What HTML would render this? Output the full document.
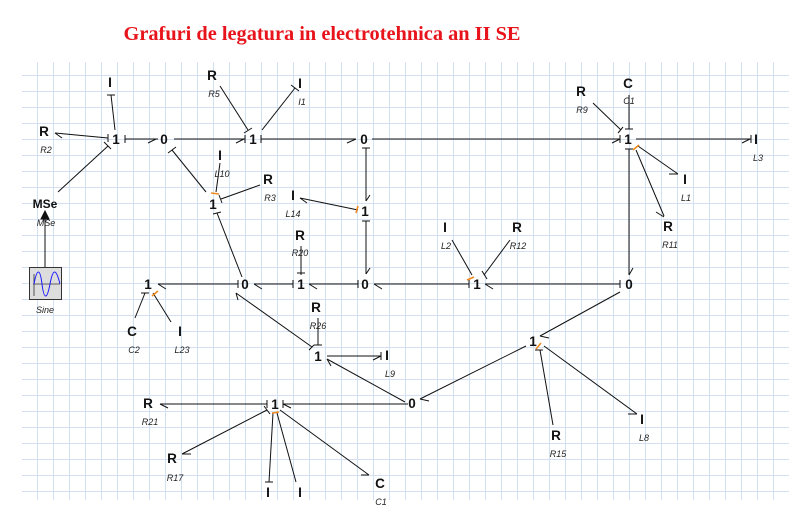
<!DOCTYPE html>
<html><head><meta charset="utf-8"><style>
html,body{margin:0;padding:0;background:#fff;width:789px;height:506px;overflow:hidden}
svg{display:block}
.n{font-family:"Liberation Sans",sans-serif;font-size:13.5px;font-weight:bold;fill:#111}
.l{font-family:"Liberation Sans",sans-serif;font-size:9px;font-style:italic;fill:#222}
</style></head><body>
<svg width="789" height="506" viewBox="0 0 789 506" xmlns="http://www.w3.org/2000/svg">
<defs>
<pattern id="g" x="5" y="11" width="16" height="16" patternUnits="userSpaceOnUse">
<path d="M0 0.5H16M0.5 0V16" stroke="#d2e1f2" stroke-width="1" fill="none"/>
</pattern>
</defs>
<rect x="22" y="62" width="767" height="438" fill="url(#g)"/>
<text x="322" y="40" text-anchor="middle" font-family="Liberation Serif,serif" font-weight="bold" font-size="20" fill="#e8141c" textLength="397" lengthAdjust="spacingAndGlyphs">Grafuri de legatura in electrotehnica an II SE</text>

<g stroke="#111" stroke-width="1" fill="none">
<line x1="125" y1="139" x2="158" y2="139"/><path d="M125 135V143"/><path d="M148 143L156 139"/>
<line x1="174" y1="139" x2="245" y2="139"/><path d="M245 135V143"/><path d="M236 143L244 139"/>
<line x1="261" y1="139" x2="356" y2="139"/><path d="M261 135V143"/><path d="M347 143L356 139"/>
<line x1="372" y1="139" x2="620" y2="139"/><path d="M620 135V143"/><path d="M612 143L620 139"/>
<line x1="636" y1="139" x2="751" y2="139"/><path d="M751 135V143"/><path d="M742 143L750 139"/>
<line x1="115" y1="130" x2="111" y2="95"/><path d="M107 95H115"/>
<line x1="108" y1="138" x2="55" y2="133"/><path d="M108 134V142"/><path d="M55 133L62 138"/>
<line x1="108" y1="146" x2="58" y2="192"/><path d="M104 142L111 149"/>
<line x1="45" y1="267" x2="45" y2="213"/><path d="M41 219L45 211L49 219Z" fill="#111"/>
<line x1="220" y1="86" x2="248" y2="130"/><path d="M244 133L252 128"/>
<line x1="262" y1="130" x2="295" y2="88"/><path d="M291 85L299 91"/>
<line x1="172" y1="150" x2="206" y2="192"/><path d="M168 153L176 147"/>
<line x1="216" y1="192" x2="220" y2="163"/>
<line x1="221" y1="199" x2="260" y2="185"/><path d="M219 195L222 203"/>
<line x1="217" y1="213" x2="242" y2="277"/><path d="M213 214L221 212"/>
<line x1="158" y1="284" x2="238" y2="284"/><path d="M238 280V288"/><path d="M158 284L166 289"/>
<line x1="254" y1="284" x2="293" y2="284"/><path d="M293 280V288"/><path d="M254 284L262 289"/>
<line x1="309" y1="284" x2="358" y2="284"/><path d="M358 280V288"/><path d="M309 284L317 289"/>
<line x1="374" y1="284" x2="469" y2="284"/><path d="M469 280V288"/><path d="M374 284L382 289"/>
<line x1="485" y1="284" x2="620" y2="284"/><path d="M620 280V288"/><path d="M485 284L493 289"/>
<line x1="301" y1="275" x2="301" y2="246"/><path d="M297 273H305"/>
<line x1="366" y1="148" x2="366" y2="201"/><path d="M362 148H370"/><path d="M366 201L370 195"/>
<line x1="366" y1="221" x2="366" y2="274"/><path d="M362 221H370"/><path d="M366 274L370 268"/>
<line x1="358" y1="210" x2="300" y2="198"/><path d="M300 198L307 203"/>
<line x1="472" y1="275" x2="452" y2="240"/>
<line x1="484" y1="275" x2="510" y2="240"/><path d="M482 271L487 279"/>
<line x1="629" y1="275" x2="629" y2="149"/><path d="M625 149H633"/><path d="M629 275L633 268"/>
<line x1="621" y1="130" x2="593" y2="103"/><path d="M618 133L623 127"/>
<line x1="629" y1="129" x2="629" y2="95"/><path d="M625 129H633"/>
<line x1="638" y1="146" x2="678" y2="174"/><path d="M669 174H678"/>
<line x1="636" y1="150" x2="664" y2="216"/><path d="M656 212L664 217"/>
<line x1="620" y1="292" x2="540" y2="336"/><path d="M540 336L549 338"/>
<line x1="540" y1="350" x2="553" y2="425"/><path d="M535 350H543"/>
<line x1="544" y1="346" x2="637" y2="414"/><path d="M628 414H637"/>
<line x1="526" y1="346" x2="420" y2="399"/><path d="M420 399L429 401"/>
<line x1="405" y1="402" x2="327" y2="359"/><path d="M327 359L331 366"/>
<line x1="236" y1="293" x2="312" y2="347"/><path d="M309 350L314 345"/><path d="M236 293L238 300"/>
<line x1="318" y1="345" x2="318" y2="318"/><path d="M314 345H322"/>
<line x1="327" y1="356" x2="381" y2="356"/><path d="M381 352V360"/><path d="M373 360L381 356"/>
<line x1="408" y1="404" x2="283" y2="404"/><path d="M283 400V408"/><path d="M283 404L291 408"/>
<line x1="267" y1="404" x2="160" y2="404"/><path d="M267 400V408"/><path d="M160 404L168 408"/>
<line x1="267" y1="410" x2="182" y2="454"/><path d="M264 406L270 414"/><path d="M182 454L191 454"/>
<line x1="273" y1="413" x2="269" y2="482"/><path d="M265 482H273"/>
<line x1="277" y1="413" x2="296" y2="482"/>
<line x1="280" y1="410" x2="369" y2="475"/><path d="M361 475H369"/>
<line x1="145" y1="293" x2="135" y2="318"/><path d="M141 293H149"/>
<line x1="153" y1="293" x2="171" y2="322"/>
</g>
<g stroke="#f08a1c" stroke-width="1.6">
<path d="M211 193L219 194"/><path d="M633 150L639 145"/><path d="M356 213L358 206"/>
<path d="M467 280L474 277"/><path d="M536 349L541 343"/><path d="M152 296L158 291"/>
<path d="M272 413L279 412"/>
</g>
<rect x="29.5" y="267.5" width="32" height="32" fill="#ddd" stroke="#333"/>
<line x1="33" y1="284" x2="60" y2="284" stroke="#333" stroke-width="0.8"/>
<line x1="34" y1="274" x2="34" y2="296" stroke="#333" stroke-width="0.8"/>
<path d="M34 284 C37 268,40 268,42 284 S47 300,50 284 S56 268,60 284" stroke="#1a1aff" fill="none"/>

<g class="n" text-anchor="middle">
<text x="116" y="144">1</text><text x="164" y="144">0</text><text x="253" y="144">1</text>
<text x="364" y="144">0</text><text x="628" y="144">1</text>
<text x="110" y="87">I</text><text x="44" y="136">R</text><text x="45" y="208" font-size="12">MSe</text>
<text x="212" y="80">R</text><text x="300" y="88">I</text>
<text x="213" y="209">1</text><text x="220" y="160">I</text><text x="268" y="184">R</text>
<text x="293" y="200">I</text><text x="365" y="216">1</text>
<text x="148" y="289">1</text><text x="245" y="289">0</text><text x="301" y="289">1</text>
<text x="365" y="289">0</text><text x="477" y="289">1</text><text x="629" y="289">0</text>
<text x="300" y="240">R</text><text x="445" y="232">I</text><text x="517" y="232">R</text>
<text x="581" y="96">R</text><text x="628" y="88">C</text><text x="756" y="144">I</text>
<text x="685" y="184">I</text><text x="668" y="231">R</text>
<text x="132" y="336">C</text><text x="180" y="336">I</text>
<text x="316" y="312">R</text><text x="318" y="361">1</text><text x="387" y="360">I</text>
<text x="533" y="346">1</text><text x="412" y="408">0</text>
<text x="556" y="440">R</text><text x="642" y="424">I</text>
<text x="275" y="409">1</text><text x="148" y="408">R</text><text x="172" y="463">R</text>
<text x="268" y="497">I</text><text x="300" y="497">I</text><text x="380" y="488">C</text>
</g>
<g class="l" text-anchor="middle">
<text x="46" y="153">R2</text><text x="46" y="226">MSe</text><text x="45" y="313">Sine</text>
<text x="214" y="97">R5</text><text x="302" y="105">I1</text><text x="222" y="177">L10</text>
<text x="270" y="201">R3</text><text x="293" y="217">L14</text><text x="300" y="256">R20</text>
<text x="446" y="249">L2</text><text x="518" y="249">R12</text>
<text x="582" y="113">R9</text><text x="629" y="104">C1</text><text x="758" y="161">L3</text>
<text x="686" y="201">L1</text><text x="670" y="248">R11</text>
<text x="134" y="353">C2</text><text x="182" y="353">L23</text>
<text x="318" y="329">R26</text><text x="390" y="377">L9</text>
<text x="558" y="457">R15</text><text x="644" y="441">L8</text>
<text x="150" y="425">R21</text><text x="175" y="481">R17</text><text x="381" y="505">C1</text>
</g>
</svg>
</body></html>
